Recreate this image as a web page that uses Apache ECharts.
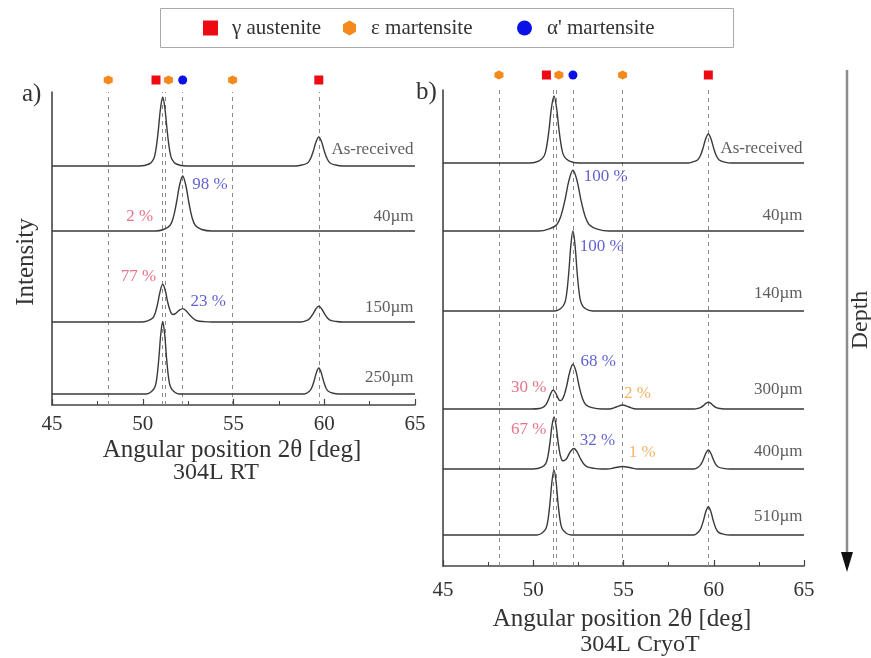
<!DOCTYPE html>
<html><head><meta charset="utf-8">
<script src="https://cdn.jsdelivr.net/npm/echarts@6/dist/echarts.min.js"></script>
<style>html,body{margin:0;padding:0;background:#fff}#c{width:871px;height:658px}</style>
</head><body><div id="c"></div>
<script>
// ---------- DATA ----------
const xTicks = [45, 50, 55, 60, 65];
const phaseLineX = [48.1, 51.1, 51.25, 52.2, 54.95, 59.7];
const gammaMarkX = [50.73, 59.7];
const epsMarkX = [48.1, 51.42, 54.95];
const alphaMarkX = [52.2];

const leftNames = ['As-received', '40µm', '150µm', '250µm'];
const leftOffsets = [239, 174, 83, 11];
const leftAR = [[45,0],[49.8,0],[50.35,2],[50.6,7],[50.725,16.5],[50.85,34.5],[50.975,57],[51.1,69],[51.225,57],[51.35,34.5],[51.475,16.5],[51.6,7],[51.85,2],[52.4,0],[58.4,0],[58.77,1],[59.08,3],[59.235,7],[59.39,14.5],[59.545,24],[59.7,29],[59.855,24],[60.01,14.5],[60.165,7],[60.32,3],[60.63,1],[61.0,0],[65,0]];
const left40 = [[45,0],[50.7,0],[51.15,1.5],[51.5,5.5],[51.675,13],[51.85,27.5],[52.025,45.5],[52.2,55],[52.375,45.5],[52.55,27.5],[52.725,13],[52.9,5.5],[53.25,1.5],[53.8,0],[65,0]];
const left150 = [[45,0],[49.9,0],[50.275,1.2],[50.55,3.9],[50.6875,8.9],[50.825,18.7],[50.9625,31],[51.1,37.7],[51.2375,31.8],[51.375,19.9],[51.5125,11.2],[51.65,7.5],[51.8,8.4],[52.0,11.6],[52.2,13.4],[52.4,11],[52.6,6.7],[52.8,3.3],[53.0,1.3],[53.4,0.4],[53.8,0],[58.7,0],[59.05,1.6],[59.2125,3.8],[59.375,7.85],[59.5375,13],[59.7,15.7],[59.8625,13],[60.025,7.85],[60.1875,3.8],[60.35,1.6],[60.675,0.5],[61.0,0],[65,0]];
const left250 = [[45,0],[50.2,0],[50.47,2.2],[50.68,7.5],[50.785,17.4],[50.89,36.3],[50.995,60.2],[51.1,72.6],[51.205,60.2],[51.31,36.3],[51.415,17.4],[51.52,7.5],[51.73,2.2],[52.0,0],[58.9,0],[59.18,2.7],[59.31,6.2],[59.44,13],[59.57,21.6],[59.7,26],[59.83,21.6],[59.96,13],[60.09,6.2],[60.22,2.7],[60.48,0.8],[60.8,0],[65,0]];

const rightNames = ['As-received', '40µm', '140µm', '300µm', '400µm', '510µm'];
const rightOffsets = [403, 335, 255, 157, 97, 31];
const rightAR = [[45,0],[49.8,0],[50.325,2.1],[50.6,7],[50.7375,16],[50.875,33.5],[51.0125,55.6],[51.15,67],[51.2875,55.6],[51.425,33.5],[51.5625,16],[51.7,7],[51.975,2.1],[52.5,0],[58.6,0],[58.8,0.9],[59.1,3],[59.25,7],[59.4,14.5],[59.55,24],[59.7,29],[59.85,24],[60.0,14.5],[60.15,7],[60.3,3],[60.6,0.9],[61.0,0],[65,0]];
const right40 = [[45,0],[50.3,0],[50.85,1.9],[51.3,6.3],[51.525,14.6],[51.75,30.4],[51.975,50.4],[52.2,60.7],[52.425,50.4],[52.65,30.4],[52.875,14.6],[53.1,6.3],[53.55,1.9],[54.2,0],[65,0]];
const right140 = [[45,0],[51.2,0],[51.525,2.5],[51.75,8.3],[51.8625,19.2],[51.975,40],[52.0875,66.4],[52.2,80],[52.3125,66.4],[52.425,40],[52.5375,19.2],[52.65,8.3],[52.875,2.5],[53.3,0],[65,0]];
const right300 = [[45,0],[49.9,0],[50.35,0.5],[50.6,2.4],[50.725,4.9],[50.85,9.7],[50.975,15.7],[51.1,19],[51.225,16.5],[51.35,11.8],[51.475,8.4],[51.6,9.3],[51.725,14.4],[51.85,22.8],[52.025,37.3],[52.2,44.7],[52.375,37.1],[52.55,22.2],[52.725,10.7],[52.9,4.6],[53.25,1.4],[53.8,0],[54.2,0],[54.6,2],[54.95,4],[55.3,2],[55.7,0],[58.9,0],[59.15,0.7],[59.29,1.6],[59.425,3.4],[59.56,5.6],[59.7,6.7],[59.84,5.6],[59.975,3.4],[60.11,1.6],[60.25,0.7],[60.6,0],[65,0]];
const right400 = [[45,0],[50.0,0],[50.475,1.8],[50.7,5.7],[50.8125,12.7],[50.925,26.2],[51.0375,43.2],[51.15,52.1],[51.2625,43.7],[51.375,27.2],[51.4875,14.4],[51.6,8.6],[51.7,8.3],[51.8,9.6],[51.875,11.2],[52.0625,17.5],[52.25,20.5],[52.4375,16.9],[52.625,10],[52.8125,4.8],[53.0,2.1],[53.375,0.6],[53.8,0],[54.1,0],[54.5,1.2],[54.95,2.5],[55.4,1.2],[55.8,0],[58.9,0],[59.15,2],[59.2875,4.6],[59.425,9.5],[59.5625,15.8],[59.7,19],[59.8375,15.8],[59.975,9.5],[60.1125,4.6],[60.25,2],[60.525,0.6],[60.9,0],[65,0]];
const right510 = [[45,0],[50.2,0],[50.49,2],[50.71,6.8],[50.82,15.6],[50.93,32.5],[51.04,54],[51.15,65],[51.26,54],[51.37,32.5],[51.48,15.6],[51.59,6.8],[51.81,2],[52.1,0],[58.9,0],[59.15,2.9],[59.2875,6.8],[59.425,14.2],[59.5625,23.5],[59.7,28.3],[59.8375,23.5],[59.975,14.2],[60.1125,6.8],[60.25,2.9],[60.525,0.9],[60.9,0],[65,0]];

const leftPctText = ['98 %', '2 %', '77 %', '23 %'];
const leftPctPhase = ['a', 'g', 'g', 'a'];
const rightPctText = ['100 %', '100 %', '68 %', '30 %', '2 %', '67 %', '32 %', '1 %'];
const rightPctPhase = ['a', 'a', 'a', 'g', 'e', 'g', 'a', 'e'];

// ---------- LAYOUT / STYLE ----------
const FONT = "'Liberation Serif','Times New Roman',serif";
const TXT = '#333';
const COL = { g: '#ee0a12', e: '#f5891b', a: '#0a10e6' };
const PCTCOL = { g: '#e0506a', e: '#f0a040', a: '#3a3ac8' };
const HEX = 'path://M50,0 L93.3,25 L93.3,75 L50,100 L6.7,75 L6.7,25 Z';
const leftNameRise = [16, 14, 14, 16];
const rightNameRise = [14, 15, 17, 19, 17, 18];
const leftPctAnchor = [[52.7,220],[50.6,188],[50.77,128],[52.6,103]];
const rightPctAnchor = [[52.77,389],[52.55,319],[52.59,204],[50.75,178],[55.0,172],[50.75,136],[52.55,125],[55.27,113]];

const grids = [
  { left: 52, top: 92, width: 363, height: 313 },
  { left: 52, top: 70, width: 363, height: 20 },
  { left: 443, top: 90, width: 361, height: 476 },
  { left: 443, top: 65, width: 361, height: 20 }
];

function mainX(gi, margin) {
  return {
    gridIndex: gi, type: 'value', min: xTicks[0], max: xTicks[xTicks.length - 1], interval: xTicks[1] - xTicks[0],
    axisLine: { show: true, onZero: false, lineStyle: { color: '#444', width: 1.6 } },
    axisTick: { show: true, inside: true, length: 6, lineStyle: { color: '#444', width: 1.2 } },
    minorTick: { show: true, splitNumber: 2, length: 4, lineStyle: { color: '#444', width: 1 } },
    axisLabel: { show: true, margin: margin, fontSize: 21, fontFamily: FONT, color: TXT },
    splitLine: { show: false }, minorSplitLine: { show: false }
  };
}
function mainY(gi, max) {
  return {
    gridIndex: gi, type: 'value', min: 0, max: max,
    axisLine: { show: true, onZero: false, lineStyle: { color: '#444', width: 1.6 } },
    axisTick: { show: false }, axisLabel: { show: false }, splitLine: { show: false }
  };
}
function hiddenX(gi) { return { gridIndex: gi, type: 'value', min: 45, max: 65, show: false, splitLine: { show: false } }; }
function hiddenY(gi) { return { gridIndex: gi, type: 'value', min: 0, max: 1, show: false, splitLine: { show: false } }; }

const series = [];
function addCurves(curves, offsets, xi) {
  curves.forEach((c, i) => {
    const s = {
      type: 'line', xAxisIndex: xi, yAxisIndex: xi, name: 'curve' + xi + '_' + i,
      data: c.map(p => [p[0], p[1] + offsets[i]]),
      showSymbol: false, smooth: 0.35, silent: true,
      lineStyle: { color: '#3a3a3a', width: 1.4 }, emphasis: { disabled: true }, z: 3
    };
    if (i === 0) {
      s.markLine = {
        silent: true, symbol: ['none', 'none'], label: { show: false },
        lineStyle: { type: [4, 4], color: '#8a8a8a', width: 1 },
        data: phaseLineX.map(x => ({ xAxis: x })), z: 1
      };
    }
    series.push(s);
  });
}
function addNames(names, offsets, rise, xi) {
  series.push({
    type: 'scatter', xAxisIndex: xi, yAxisIndex: xi, silent: true, symbolSize: 1,
    itemStyle: { color: 'transparent' },
    label: { show: true, position: 'left', distance: 1, formatter: '{b}', fontSize: 17, fontFamily: FONT, color: TXT },
    data: names.map((n, i) => ({ name: n, value: [65, offsets[i] + rise[i]] }))
  });
}
function addPct(texts, phases, anchors, xi) {
  series.push({
    type: 'scatter', xAxisIndex: xi, yAxisIndex: xi, silent: true, symbolSize: 1,
    itemStyle: { color: 'transparent' },
    label: { show: true, distance: 0, formatter: '{b}', fontSize: 17, fontFamily: FONT },
    data: texts.map((t, i) => ({
      name: t, value: anchors[i],
      label: { color: PCTCOL[phases[i]], position: phases[i] === 'g' ? 'left' : 'right' }
    }))
  });
}
function addMarkers(xi) {
  series.push({ type: 'scatter', name: 'γ austenite', xAxisIndex: xi, yAxisIndex: xi, symbol: 'rect', symbolSize: 9,
    itemStyle: { color: COL.g, opacity: 1 }, data: gammaMarkX.map(x => [x, 0.5]), silent: true });
  series.push({ type: 'scatter', name: 'ε martensite', xAxisIndex: xi, yAxisIndex: xi, symbol: HEX, symbolSize: 9,
    itemStyle: { color: COL.e, opacity: 1 }, data: epsMarkX.map(x => [x, 0.5]), silent: true });
  series.push({ type: 'scatter', name: "α' martensite", xAxisIndex: xi, yAxisIndex: xi, symbol: 'circle', symbolSize: 9,
    itemStyle: { color: COL.a, opacity: 1 }, data: alphaMarkX.map(x => [x, 0.5]), silent: true });
}

addCurves([leftAR, left40, left150, left250], leftOffsets, 0);
addNames(leftNames, leftOffsets, leftNameRise, 0);
addPct(leftPctText, leftPctPhase, leftPctAnchor, 0);
addMarkers(1);
addCurves([rightAR, right40, right140, right300, right400, right510], rightOffsets, 2);
addNames(rightNames, rightOffsets, rightNameRise, 2);
addPct(rightPctText, rightPctPhase, rightPctAnchor, 2);
addMarkers(3);

function legendAt(name, icon, left, pad) {
  return {
    show: true, left: left, top: 16, padding: 0, itemWidth: 15, itemHeight: 15, selectedMode: false,
    itemStyle: { opacity: 1 },
    textStyle: { fontSize: 21, fontFamily: FONT, color: TXT, padding: [0, 0, 0, pad], lineHeight: 24 },
    data: [{ name: name, icon: icon }]
  };
}

const option = {
  animation: false,
  backgroundColor: '#fff',
  grid: grids,
  xAxis: [mainX(0, 9), hiddenX(1), mainX(2, 14), hiddenX(3)],
  yAxis: [mainY(0, 313), hiddenY(1), mainY(2, 476), hiddenY(3)],
  legend: [
    legendAt('γ austenite', 'rect', 203, 9),
    legendAt('ε martensite', HEX, 343, 9),
    legendAt("α' martensite", 'circle', 517, 10)
  ],
  series: series,
  graphic: [
    { type: 'rect', shape: { x: 160.5, y: 8.5, width: 573, height: 39 }, style: { fill: 'none', stroke: '#aaa', lineWidth: 1 }, silent: true },
    { type: 'text', x: 22, y: 94, style: { text: 'a)', font: '25px ' + FONT, fill: TXT, textAlign: 'left', textVerticalAlign: 'middle' } },
    { type: 'text', x: 416, y: 92, style: { text: 'b)', font: '25px ' + FONT, fill: TXT, textAlign: 'left', textVerticalAlign: 'middle' } },
    { type: 'text', x: 26, y: 262, rotation: Math.PI / 2, style: { text: 'Intensity', font: '25px ' + FONT, fill: TXT, textAlign: 'center', textVerticalAlign: 'middle' } },
    { type: 'text', x: 861, y: 320, rotation: Math.PI / 2, style: { text: 'Depth', font: '24px ' + FONT, fill: TXT, textAlign: 'center', textVerticalAlign: 'middle' } },
    { type: 'line', shape: { x1: 847, y1: 70, x2: 847, y2: 556 }, style: { stroke: '#8c8c8c', lineWidth: 2.5 } },
    { type: 'polygon', shape: { points: [[841, 552], [853, 552], [847, 572]] }, style: { fill: '#111' } },
    { type: 'text', x: 232, y: 450, style: { text: 'Angular position 2θ [deg]', font: '25px ' + FONT, fill: TXT, textAlign: 'center', textVerticalAlign: 'middle' } },
    { type: 'text', x: 216, y: 473, style: { text: '304L RT', font: '24px ' + FONT, fill: TXT, textAlign: 'center', textVerticalAlign: 'middle' } },
    { type: 'text', x: 622, y: 619, style: { text: 'Angular position 2θ [deg]', font: '25px ' + FONT, fill: TXT, textAlign: 'center', textVerticalAlign: 'middle' } },
    { type: 'text', x: 640, y: 645, style: { text: '304L CryoT', font: '24px ' + FONT, fill: TXT, textAlign: 'center', textVerticalAlign: 'middle' } }
  ]
};
const chart = echarts.init(document.getElementById('c'), null, { renderer: 'canvas' });
chart.setOption(option);
</script></body></html>
